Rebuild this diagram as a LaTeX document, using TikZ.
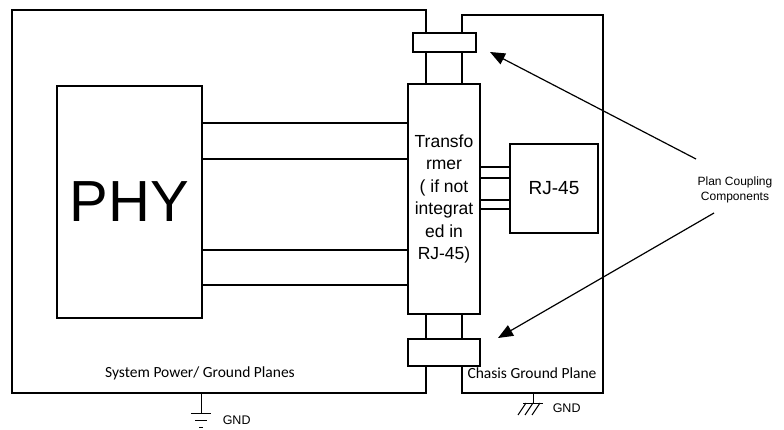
\documentclass[tikz,border=0pt]{standalone}
\usepackage{fontspec}
\setmainfont{Liberation Sans}
\newfontfamily\calfont{Carlito}
\usetikzlibrary{arrows.meta}

\begin{document}
\begin{tikzpicture}
  [x=1pt,y=-1pt,line width=1.5pt,
   every node/.style={inner sep=0pt},
   blk/.style={draw,fill=white},
   planelbl/.style={font=\calfont\fontsize{15.5}{17}\selectfont},
   gndlbl/.style={font=\fontsize{12.5}{14}\selectfont},
   pointer/.style={line width=1.2pt,-{Triangle[length=15pt,width=12pt]}}]
  \useasboundingbox (0,0) rectangle (784,430);
  % blocks
  \node[blk,minimum width=145pt,minimum height=232pt,font=\fontsize{58}{60}\selectfont] (phy) at (129.5,202) {PHY};
  \node[blk,minimum width=72pt,minimum height=230pt,align=center,font=\fontsize{17.5}{22.5}\selectfont] (xfmr) at (444,199)
    {Transfo\\rmer\\( if not\\integrat\\ed in\\RJ-45)};
  \node[blk,minimum width=88pt,minimum height=89pt,font=\fontsize{19}{22}\selectfont] (rj) at (554,188.5) {RJ-45};
  \node[blk,minimum width=63pt,minimum height=19pt] (ctop) at (444.5,42.5) {};
  \node[blk,minimum width=72pt,minimum height=27pt] (cbot) at (444,352.5) {};
  % planes
  \draw (426,0 |- ctop.north) -- (426,10) -- (12,10) -- (12,393) -- (426,393) -- (426,0 |- cbot.south);
  \draw (462,0 |- ctop.north) -- (462,15) -- (603,15) -- (603,393) -- (462,393) -- (462,0 |- cbot.south);
  \foreach \x in {426,462} {
    \draw (\x,0 |- ctop.south) -- (\x,0 |- xfmr.north);
    \draw (\x,0 |- xfmr.south) -- (\x,0 |- cbot.north);
  }
  % signal lines
  \foreach \y in {123,159,250,285}
    \draw (phy.east |- 0,\y) -- (xfmr.west |- 0,\y);
  \foreach \y in {167,178,200,209}
    \draw (xfmr.east |- 0,\y) -- (rj.west |- 0,\y);
  % labels
  \node[planelbl] (sys) at (200,373) {System Power/ Ground Planes};
  \node[planelbl] (chs) at (532,373) {Chasis Ground Plane};
  \node[align=center,font=\fontsize{12}{15.5}\selectfont] (plc) at (735,190) {Plan Coupling\\Components};
  \coordinate (ptop) at (696,159);
  \coordinate (pbot) at (714,213);
  \draw[pointer] (ptop) -- (490,52);
  \draw[pointer] (pbot) -- (498,338);
  % grounds
  \coordinate (gl) at (201,393);
  \coordinate (gr) at (533,393);
  \draw[line width=1pt] (gl) -- ++(0,20);
  \draw[line width=1pt] (191,413) -- (211,413) (195,420) -- (207,420) (199,427) -- (203,427);
  \node[gndlbl,anchor=west] (gndl) at (222,420) {GND};
  \draw[line width=1pt] (gr) -- ++(0,10);
  \draw[line width=1pt] (523,403) -- (543,403);
  \foreach \x in {526,533,540}
    \draw[line width=1pt] (\x,403) -- ++(-8,12);
  \node[gndlbl,anchor=west] (gndr) at (552,408) {GND};
\end{tikzpicture}
\end{document}
